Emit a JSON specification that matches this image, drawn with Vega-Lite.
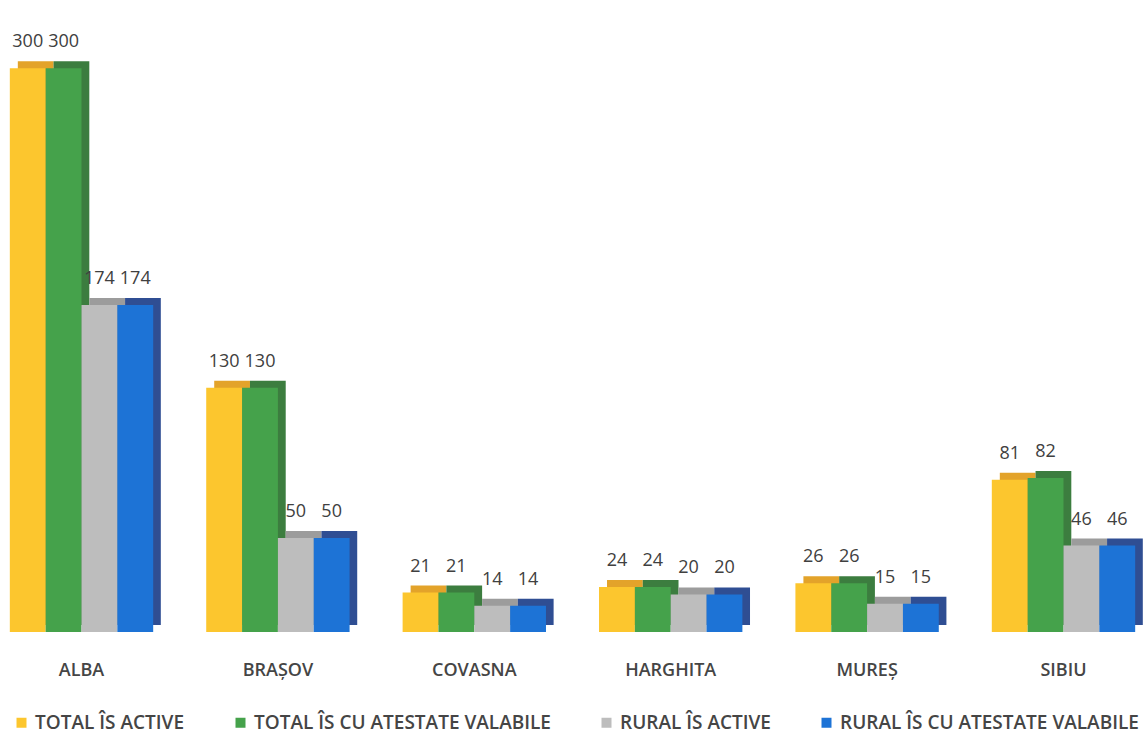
{
  "$schema": "https://vega.github.io/schema/vega-lite/v6.json",
  "width": 1145,
  "height": 592,
  "autosize": {"type": "none"},
  "padding": {"top": 40, "left": 0, "right": 0, "bottom": 107},
  "background": "white",
  "title": {"text": "REGIUNEA CENTRU", "anchor": "middle", "offset": 30, "fontSize": 22, "color": "#404040", "font": "Open Sans", "fontWeight": "bold"},
  "config": {"view": {"stroke": null}},
  "data": {"values": [
    {"judet": "ALBA", "serie": "TOTAL ÎS ACTIVE", "valoare": 300},
    {"judet": "ALBA", "serie": "TOTAL ÎS CU ATESTATE VALABILE", "valoare": 300},
    {"judet": "ALBA", "serie": "RURAL ÎS ACTIVE", "valoare": 174},
    {"judet": "ALBA", "serie": "RURAL ÎS CU ATESTATE VALABILE", "valoare": 174},
    {"judet": "BRAȘOV", "serie": "TOTAL ÎS ACTIVE", "valoare": 130},
    {"judet": "BRAȘOV", "serie": "TOTAL ÎS CU ATESTATE VALABILE", "valoare": 130},
    {"judet": "BRAȘOV", "serie": "RURAL ÎS ACTIVE", "valoare": 50},
    {"judet": "BRAȘOV", "serie": "RURAL ÎS CU ATESTATE VALABILE", "valoare": 50},
    {"judet": "COVASNA", "serie": "TOTAL ÎS ACTIVE", "valoare": 21},
    {"judet": "COVASNA", "serie": "TOTAL ÎS CU ATESTATE VALABILE", "valoare": 21},
    {"judet": "COVASNA", "serie": "RURAL ÎS ACTIVE", "valoare": 14},
    {"judet": "COVASNA", "serie": "RURAL ÎS CU ATESTATE VALABILE", "valoare": 14},
    {"judet": "HARGHITA", "serie": "TOTAL ÎS ACTIVE", "valoare": 24},
    {"judet": "HARGHITA", "serie": "TOTAL ÎS CU ATESTATE VALABILE", "valoare": 24},
    {"judet": "HARGHITA", "serie": "RURAL ÎS ACTIVE", "valoare": 20},
    {"judet": "HARGHITA", "serie": "RURAL ÎS CU ATESTATE VALABILE", "valoare": 20},
    {"judet": "MUREȘ", "serie": "TOTAL ÎS ACTIVE", "valoare": 26},
    {"judet": "MUREȘ", "serie": "TOTAL ÎS CU ATESTATE VALABILE", "valoare": 26},
    {"judet": "MUREȘ", "serie": "RURAL ÎS ACTIVE", "valoare": 15},
    {"judet": "MUREȘ", "serie": "RURAL ÎS CU ATESTATE VALABILE", "valoare": 15},
    {"judet": "SIBIU", "serie": "TOTAL ÎS ACTIVE", "valoare": 81},
    {"judet": "SIBIU", "serie": "TOTAL ÎS CU ATESTATE VALABILE", "valoare": 82},
    {"judet": "SIBIU", "serie": "RURAL ÎS ACTIVE", "valoare": 46},
    {"judet": "SIBIU", "serie": "RURAL ÎS CU ATESTATE VALABILE", "valoare": 46}
  ]},
  "encoding": {
    "x": {"field": "judet", "type": "nominal", "sort": null,
      "scale": {"paddingInner": 0.27, "paddingOuter": 0.05},
      "axis": {"title": null, "domain": false, "ticks": false, "labelAngle": 0, "labelFontSize": 18, "labelFontWeight": 600, "labelFont": "Open Sans", "labelColor": "#454545", "labelPadding": 29}},
    "y": {"field": "valoare", "type": "quantitative", "scale": {"domain": [0, 315]}, "axis": null}
  },
  "layer": [
    {
      "mark": {"type": "bar", "yOffset": -7, "y2Offset": -7},
      "encoding": {
        "xOffset": {"field": "serie", "type": "nominal", "sort": ["TOTAL ÎS ACTIVE", "TOTAL ÎS CU ATESTATE VALABILE", "RURAL ÎS ACTIVE", "RURAL ÎS CU ATESTATE VALABILE"], "scale": {"paddingInner": 0, "paddingOuter": 0, "range": [8, 151]}},
        "color": {"field": "serie", "type": "nominal", "legend": null,
          "scale": {"domain": ["TOTAL ÎS ACTIVE", "TOTAL ÎS CU ATESTATE VALABILE", "RURAL ÎS ACTIVE", "RURAL ÎS CU ATESTATE VALABILE"], "range": ["#E3A32A", "#3C7D3F", "#9C9C9C", "#2F4E93"]}}
      }
    },
    {
      "encoding": {
        "xOffset": {"field": "serie", "type": "nominal", "sort": ["TOTAL ÎS ACTIVE", "TOTAL ÎS CU ATESTATE VALABILE", "RURAL ÎS ACTIVE", "RURAL ÎS CU ATESTATE VALABILE"], "scale": {"paddingInner": 0, "paddingOuter": 0}}
      },
      "layer": [
        {
          "mark": {"type": "bar"},
          "encoding": {
            "color": {"field": "serie", "type": "nominal",
              "scale": {"domain": ["TOTAL ÎS ACTIVE", "TOTAL ÎS CU ATESTATE VALABILE", "RURAL ÎS ACTIVE", "RURAL ÎS CU ATESTATE VALABILE"], "range": ["#FCC62E", "#45A24B", "#BDBDBD", "#1D73D6"]},
              "legend": {"title": null, "orient": "none", "legendX": 12, "legendY": 673, "direction": "horizontal", "symbolType": "square", "symbolSize": 100, "symbolStrokeWidth": 0, "labelFontSize": 19, "labelFontWeight": 600, "labelFont": "Open Sans", "labelColor": "#454545", "columnPadding": 46, "labelOffset": 4, "labelLimit": 400}}
          }
        },
        {
          "mark": {"type": "text", "dy": -26, "fontSize": 18, "font": "Open Sans", "color": "#404040"},
          "encoding": {"text": {"field": "valoare", "type": "quantitative"}}
        }
      ]
    }
  ],
  "resolve": {"scale": {"color": "independent", "xOffset": "independent"}}
}
